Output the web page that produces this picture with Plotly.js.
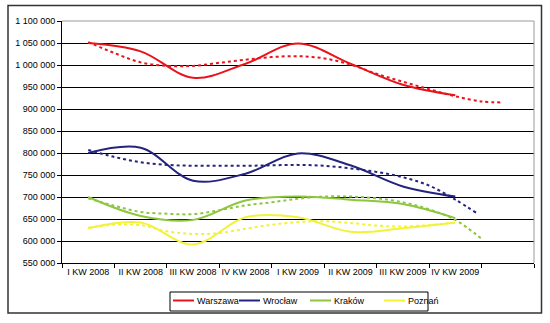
<!DOCTYPE html>
<html>
<head>
<meta charset="utf-8">
<script src="https://cdn.plot.ly/plotly-3.0.1.min.js"></script>
<style>
html,body{margin:0;padding:0;background:#fff;}
#chart{width:550px;height:323px;}
</style>
</head>
<body>
<div id="chart"></div>
<script>
// Categories (quarters)
var categories = ["I KW 2008","II KW 2008","III KW 2008","IV KW 2008","I KW 2009","II KW 2009","III KW 2009","IV KW 2009"];
var seriesNames = ["Warszawa","Wrocław","Kraków","Poznań"];

// Series values
var warszawa = [1050000, 1031000, 971000, 1003000, 1049000, 1003000, 955000, 931000];
var wroclaw  = [800000, 812000, 737000, 753000, 799000, 772000, 724000, 701000];
var krakow   = [700000, 657000, 648000, 692000, 701000, 694000, 684000, 652000];
var poznan   = [629000, 642000, 592000, 654000, 654000, 621000, 629000, 642000];

// Trendline values (dotted) at half-category steps
var trendX = [1,1.5,2,2.5,3,3.5,4,4.5,5,5.5,6,6.5,7,7.5,8,8.5,8.9];
var warszawaTrend = [1052000,1027000,1006000,998000,998000,1005000,1012000,1018000,1020000,1015000,1001000,980000,962000,945000,929000,917000,915000];
var wroclawTrendX = [1,1.5,2,2.5,3,3.5,4,4.5,5,5.5,6,6.5,7,7.5,8,8.4];
var wroclawTrend  = [807000,791000,779000,773000,771000,771000,771000,772000,773000,771000,765000,757000,745000,726000,694000,664000];
var krakowTrendX = [1,1.5,2,2.5,3,3.5,4,4.5,5,5.5,6,6.5,7,7.5,8,8.5];
var krakowTrend  = [697000,680000,666000,662000,661000,670000,681000,688000,696000,701000,701000,697000,688000,672000,648000,605000];
var poznanTrendX = [1,1.5,2,2.5,3,3.5,4,4.5,5,5.5,6,6.5,7,7.5,8];
var poznanTrend  = [630000,637000,636000,622000,616000,618000,628000,637000,643000,645000,641000,635000,633000,636000,642000];

var colors = ["#E8141B","#24247F","#8DC63F","#F2F23A"];
var xs = categories.map(function(c,i){return i+1;});

var traces = [];
var vals = [warszawa, wroclaw, krakow, poznan];
var tX = [trendX, wroclawTrendX, krakowTrendX, poznanTrendX];
var tY = [warszawaTrend, wroclawTrend, krakowTrend, poznanTrend];
for (var i=0;i<4;i++){
  traces.push({x:tX[i], y:tY[i], type:'scatter', mode:'lines', showlegend:false, hoverinfo:'skip',
    line:{color:colors[i], width:2, dash:'dot', shape:'spline'}});
}
for (var i=0;i<4;i++){
  traces.push({x:xs, y:vals[i], type:'scatter', mode:'lines', name:seriesNames[i], showlegend:false,
    line:{color:colors[i], width:2, shape:'spline', smoothing:1}});
}

var ytick = [];
for (var v=550000; v<=1050000; v+=50000) ytick.push(v);
var ytickAll = ytick.concat([1100000]);
var yticktext = ytickAll.map(function(v){return v.toString().replace(/\B(?=(\d{3})+(?!\d))/g,' ');});

// plot area in px: x 62..534, y 21..263 (height 242)
var L=62, W=472, T=21, H=242;
function px(xp){return (xp-L)/W;}
function py(yp){return (T+H-yp)/H;}

var shapes = [
  {type:'line', xref:'paper', yref:'paper', x0:0, x1:1, y0:1, y1:1, line:{color:'#999', width:1}},
  {type:'line', xref:'paper', yref:'paper', x0:1, x1:1, y0:0, y1:1, line:{color:'#999', width:1}},
  {type:'rect', xref:'paper', yref:'paper', x0:px(8), x1:px(541.5), y0:py(313), y1:py(5.5), line:{color:'#333', width:1.5}},
  // legend box
  {type:'rect', xref:'paper', yref:'paper', x0:px(170), x1:px(428), y0:py(311), y1:py(292), line:{color:'#000', width:1}, fillcolor:'#fff'}
];
var annotations = [];
var legLineX = [[173,194],[239,260],[310,331],[384,405]];
var legTextX = [195, 261, 332, 406];
for (var i=0;i<4;i++){
  shapes.push({type:'line', xref:'paper', yref:'paper', x0:px(legLineX[i][0]), x1:px(legLineX[i][1]), y0:py(300.5), y1:py(300.5), line:{color:colors[i], width:2}});
  annotations.push({xref:'paper', yref:'paper', x:px(legTextX[i]), y:py(301), xanchor:'left', yanchor:'middle', text:seriesNames[i], showarrow:false, font:{size:9, color:'#000'}});
}

var layout = {
  width:550, height:323,
  margin:{l:L, r:550-L-W, t:T, b:323-T-H},
  paper_bgcolor:'#fff', plot_bgcolor:'#fff',
  font:{family:'Arial, Liberation Sans, sans-serif', size:9, color:'#000'},
  showlegend:false,
  xaxis:{range:[0.5,9.5], tickvals:xs, ticktext:categories, ticks:'', showgrid:false, zeroline:false,
    showline:true, linecolor:'#000', linewidth:1,
    minor:{tick0:0.5, dtick:1, ticks:'outside', ticklen:4, tickcolor:'#000', showgrid:false},
    tickfont:{size:9}, fixedrange:true},
  yaxis:{range:[550000,1100000], tickvals:ytickAll, ticktext:yticktext, ticks:'outside', ticklen:4, tickcolor:'#000',
    showgrid:false, zeroline:false, showline:true, linecolor:'#000', linewidth:1,
    tickfont:{size:9}, fixedrange:true},
  yaxis2:{range:[550000,1100000], overlaying:'y', side:'left', tickvals:ytick.slice(1), showticklabels:false, ticks:'',
    showgrid:true, gridcolor:'#000', gridwidth:1, zeroline:false, showline:false, fixedrange:true},
  shapes:shapes,
  annotations:annotations
};

// dummy trace on yaxis2 so the grid is drawn
traces.unshift({x:[1], y:[550000], yaxis:'y2', type:'scatter', mode:'lines', showlegend:false, hoverinfo:'skip', line:{width:0}});

Plotly.newPlot('chart', traces, layout, {displayModeBar:false, staticPlot:true});
</script>
</body>
</html>
